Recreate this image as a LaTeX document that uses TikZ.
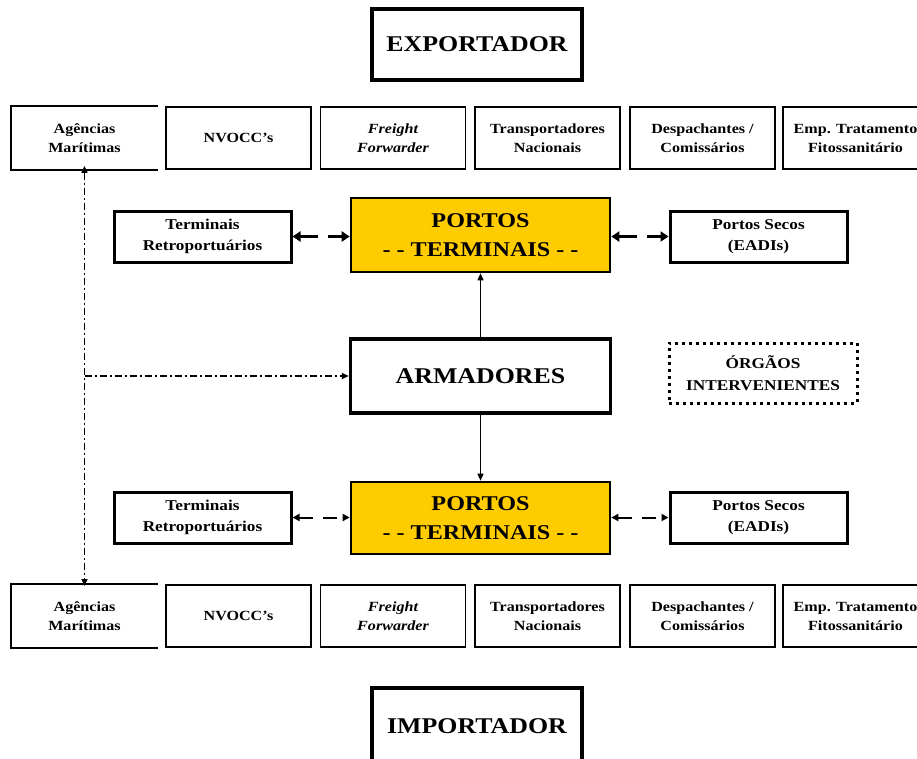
\documentclass[tikz,border=0pt]{standalone}
\usepackage{fontspec}
\setmainfont{Liberation Serif}[FakeStretch=1.15]
\usetikzlibrary{arrows.meta}
\definecolor{gold}{HTML}{FFCC00}
\begin{document}
\begin{tikzpicture}[x=1pt,y=-1pt,
  agent/.style={draw,line width=1.8pt,minimum width=145pt,minimum height=62pt,inner sep=0pt,
    align=center,font=\fontsize{14}{19}\selectfont\bfseries},
  agentopen/.style={agent,draw=none},
  endbox/.style={draw,line width=3.5pt,minimum width=210pt,minimum height=71pt,inner sep=0pt,
    font=\fontsize{22.5}{26}\selectfont\bfseries},
  sidebox/.style={draw,line width=3pt,minimum width=177pt,minimum height=51pt,inner sep=0pt,
    align=center,font=\fontsize{15}{21}\selectfont\bfseries},
  portbox/.style={draw,line width=2.6pt,fill=gold,minimum width=259pt,inner sep=0pt,
    align=center,font=\fontsize{21}{29}\selectfont\bfseries},
  armbox/.style={draw,line width=3.5pt,minimum width=260pt,minimum height=74pt,inner sep=0pt,
    font=\fontsize{22.5}{26}\selectfont\bfseries},
  dotbox/.style={draw,line width=3pt,dash pattern=on 3pt off 4pt,minimum width=188pt,
    minimum height=60pt,inner sep=0pt,align=center,font=\fontsize{15}{22}\selectfont\bfseries},
  thicklink/.style={line width=3.5pt,dash pattern=on 18pt off 10pt,
    {Triangle[length=8pt,width=10pt]}-{Triangle[length=8pt,width=10pt]}},
  thinlink/.style={line width=2pt,dash pattern=on 14pt off 10pt,
    {Triangle[length=7pt,width=7pt]}-{Triangle[length=7pt,width=7pt]}},
  solidlink/.style={line width=1.3pt,-{Triangle[length=7pt,width=6pt]}},
  dashdot/.style={line width=1.4pt,dash pattern=on 7pt off 3pt on 2pt off 3pt},
  dashdotboth/.style={dashdot,{Triangle[length=7pt,width=6pt]}-{Triangle[length=7pt,width=6pt]}},
  dashdotend/.style={dashdot,-{Triangle[length=7pt,width=6pt]}}
]
\useasboundingbox (0,0) rectangle (917,758);

% exporter and importer (the importer box runs past the lower edge)
\node[endbox] (exp) at (477,44.5) {EXPORTADOR};
\node[endbox,minimum height=80pt] (imp) at (477,728) {\raisebox{3pt}{IMPORTADOR}};

% upper row of agents
\node[agentopen] (a1) at (84.5,138) {Agências\\Marítimas};
\draw[line width=1.8pt] (a1.north east) -- (a1.north west) -- (a1.south west) -- (a1.south east);
\node[agent] (a2) at (238.5,138) {NVOCC's};
\node[agent,font=\fontsize{14}{19}\selectfont\bfseries\itshape] (a3) at (393,138) {Freight\\Forwarder};
\node[agent] (a4) at (547.5,138) {Transportadores\\Nacionais};
\node[agent] (a5) at (702.5,138) {Despachantes /\\Comissários};
\node[agent] (a6) at (855.5,138) {Emp. Tratamento\\Fitossanitário};

% upper port level
\node[sidebox] (tr1) at (202.5,236.5) {Terminais\\Retroportuários};
\node[portbox,minimum height=74pt] (p1) at (480.5,235) {PORTOS\\- - TERMINAIS - -};
\node[sidebox] (ps1) at (758.5,236.5) {Portos Secos\\(EADIs)};
\draw[thicklink] (tr1.east) -- (tr1.east -| p1.west);
\draw[thicklink] (p1.east |- ps1.west) -- (ps1.west);

% ship owners and intervening bodies
\node[armbox] (arm) at (480.5,376) {ARMADORES};
\node[dotbox] (org) at (763,373) {ÓRGÃOS\\INTERVENIENTES};

% lower port level
\node[sidebox] (tr2) at (202.5,517.5) {Terminais\\Retroportuários};
\node[portbox,minimum height=72pt] (p2) at (480.5,518) {PORTOS\\- - TERMINAIS - -};
\node[sidebox] (ps2) at (758.5,517.5) {Portos Secos\\(EADIs)};
\draw[thinlink] (tr2.east) -- (tr2.east -| p2.west);
\draw[thinlink] (p2.east |- ps2.west) -- (ps2.west);

\draw[solidlink] (arm.north) -- (p1.south);
\draw[solidlink] (arm.south) -- (p2.north);

% lower row of agents
\node[agentopen] (b1) at (84.5,616) {Agências\\Marítimas};
\draw[line width=1.8pt] (b1.north east) -- (b1.north west) -- (b1.south west) -- (b1.south east);
\node[agent] (b2) at (238.5,616) {NVOCC's};
\node[agent,font=\fontsize{14}{19}\selectfont\bfseries\itshape] (b3) at (393,616) {Freight\\Forwarder};
\node[agent] (b4) at (547.5,616) {Transportadores\\Nacionais};
\node[agent] (b5) at (702.5,616) {Despachantes /\\Comissários};
\node[agent] (b6) at (855.5,616) {Emp. Tratamento\\Fitossanitário};

% maritime agencies link
\draw[dashdotboth] ([yshift=4pt]a1.south) -- ([yshift=-2pt]b1.north);
\coordinate (jn) at (a1.south |- arm.west);
\draw[dashdotend] (jn) -- (arm.west);
\end{tikzpicture}
\end{document}
